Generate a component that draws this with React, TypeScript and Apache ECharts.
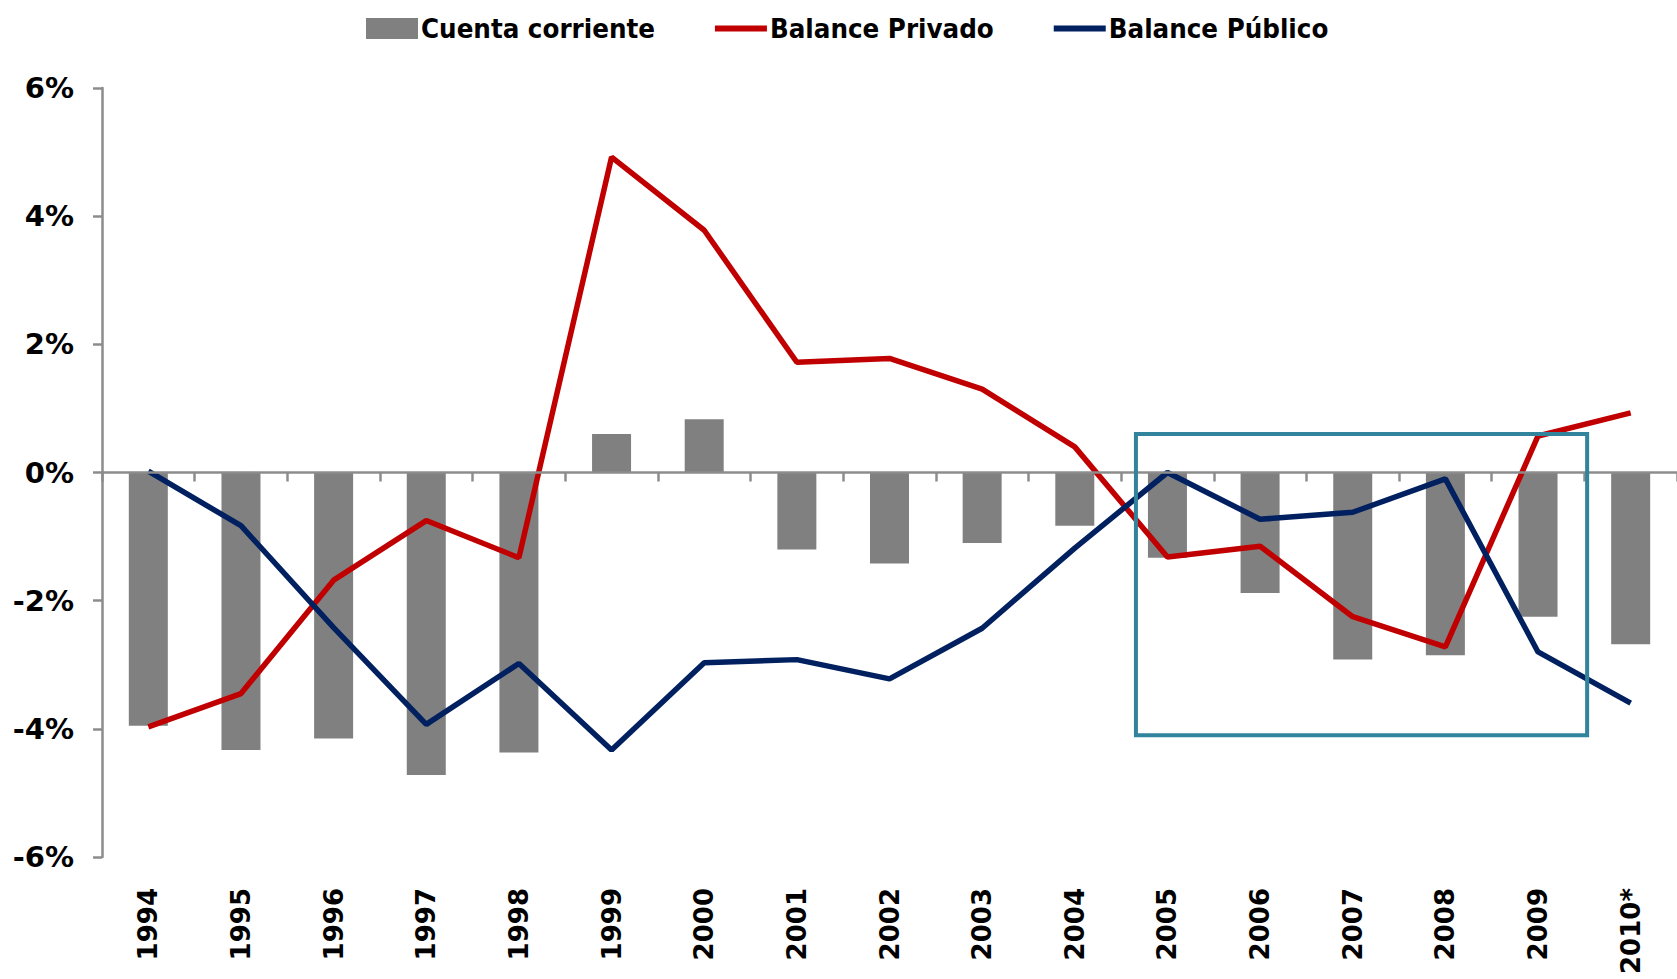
import React, { useEffect, useRef } from "react";
import * as echarts from "echarts";

const years = ["1994", "1995", "1996", "1997", "1998", "1999", "2000", "2001", "2002", "2003", "2004", "2005", "2006", "2007", "2008", "2009", "2010*"];
const cuentaCorriente = [-3.95, -4.33, -4.15, -4.72, -4.37, 0.6, 0.83, -1.2, -1.42, -1.1, -0.83, -1.33, -1.88, -2.92, -2.85, -2.25, -2.68];
const balancePrivado = [-3.97, -3.45, -1.68, -0.75, -1.33, 4.92, 3.78, 1.72, 1.78, 1.3, 0.4, -1.32, -1.15, -2.25, -2.72, 0.57, 0.93];
const balancePublico = [0.02, -0.83, -2.42, -3.93, -2.98, -4.33, -2.97, -2.92, -3.22, -2.43, -1.18, 0.0, -0.73, -0.62, -0.1, -2.8, -3.6];
const yMin = -6;
const yMax = 6;
const yStep = 2;
// highlight box: category-index range and value range
const boxIndexRange = [10.66, 15.53];
const boxValueRange = [0.6, -4.1];

const AXIS = "#8c8c8c";
const FONT = "'DejaVu Sans', Verdana, sans-serif";
const FONT_C = "'DejaVu Sans Condensed', 'DejaVu Sans', sans-serif";
// legend line icon: a 6px bar inside a 52x21 box (tiny corner marks fix the bounding box)
const LINE_ICON = "path://M0,7.5L52,7.5L52,13.5L0,13.5Z M0,0L0.02,0L0.02,0.02Z M52,21L51.98,21L51.98,20.98Z";

export default function App() {
  const ref = useRef<HTMLDivElement>(null);
  useEffect(() => {
    document.body.style.margin = "0";
    const chart = echarts.init(ref.current!, null, { renderer: "svg" });
    const option: any = {
      animation: false,
      backgroundColor: "#ffffff",
      legend: {
        left: 366,
        top: 15,
        padding: 0,
        itemWidth: 52,
        itemHeight: 21,
        itemGap: 60,
        textStyle: { fontFamily: FONT_C, fontWeight: "bold", fontSize: 27.4, color: "#000", padding: [0, 0, 0, -2] },
        data: [
          { name: "Cuenta corriente", icon: "rect" },
          { name: "Balance Privado", icon: LINE_ICON },
          { name: "Balance Público", icon: LINE_ICON },
        ],
      },
      grid: { left: 102, right: 0, top: 88, bottom: 122, containLabel: false },
      xAxis: [
        {
          type: "category",
          data: years,
          position: "bottom",
          axisLine: { onZero: true, lineStyle: { color: AXIS, width: 2.5 } },
          axisTick: { show: true, length: 9, lineStyle: { color: AXIS, width: 2.5 } },
          axisLabel: { show: false },
          splitLine: { show: false },
          z: 5,
        },
        {
          type: "category",
          data: years,
          position: "bottom",
          axisLine: { show: false, onZero: false },
          axisTick: { show: false },
          axisLabel: {
            rotate: 90,
            margin: 31,
            fontFamily: FONT,
            fontWeight: "bold",
            fontSize: 26,
            color: "#000",
          },
          splitLine: { show: false },
        },
      ],
      yAxis: {
        type: "value",
        min: yMin,
        max: yMax,
        interval: yStep,
        axisLine: { show: true, lineStyle: { color: AXIS, width: 2.5 } },
        axisTick: { show: true, length: 9, lineStyle: { color: AXIS, width: 2.5 } },
        splitLine: { show: false },
        axisLabel: {
          formatter: "{value}%",
          margin: 28,
          fontFamily: FONT,
          fontWeight: "bold",
          fontSize: 29,
          color: "#000",
        },
      },
      series: [
        {
          name: "Cuenta corriente",
          type: "bar",
          data: cuentaCorriente,
          barWidth: 39,
          itemStyle: { color: "#808080" },
          z: 2,
        },
        {
          name: "Balance Privado",
          type: "line",
          data: balancePrivado,
          symbol: "none",
          lineStyle: { color: "#C00000", width: 5.5 },
          itemStyle: { color: "#C00000" },
          z: 3,
        },
        {
          name: "Balance Público",
          type: "line",
          data: balancePublico,
          symbol: "none",
          lineStyle: { color: "#002060", width: 5.5 },
          itemStyle: { color: "#002060" },
          z: 3,
        },
      ],
    };
    chart.setOption(option);

    const toPx = (idx: number, val: number) => {
      const i0 = Math.min(Math.floor(idx), years.length - 2);
      const a = chart.convertToPixel({ seriesIndex: 0 }, [i0, val]) as number[];
      const b = chart.convertToPixel({ seriesIndex: 0 }, [i0 + 1, val]) as number[];
      const t = idx - i0;
      return [a[0] + (b[0] - a[0]) * t, a[1]];
    };
    const p1 = toPx(boxIndexRange[0], boxValueRange[0]);
    const p2 = toPx(boxIndexRange[1], boxValueRange[1]);
    chart.setOption({
      graphic: [
        {
          type: "rect",
          z: 10,
          shape: { x: p1[0], y: p1[1], width: p2[0] - p1[0], height: p2[1] - p1[1] },
          style: { fill: "none", stroke: "#31849B", lineWidth: 4 },
        },
      ],
    });

    return () => {
      chart.dispose();
    };
  }, []);
  return <div ref={ref} style={{ width: 1677, height: 979 }} />;
}
